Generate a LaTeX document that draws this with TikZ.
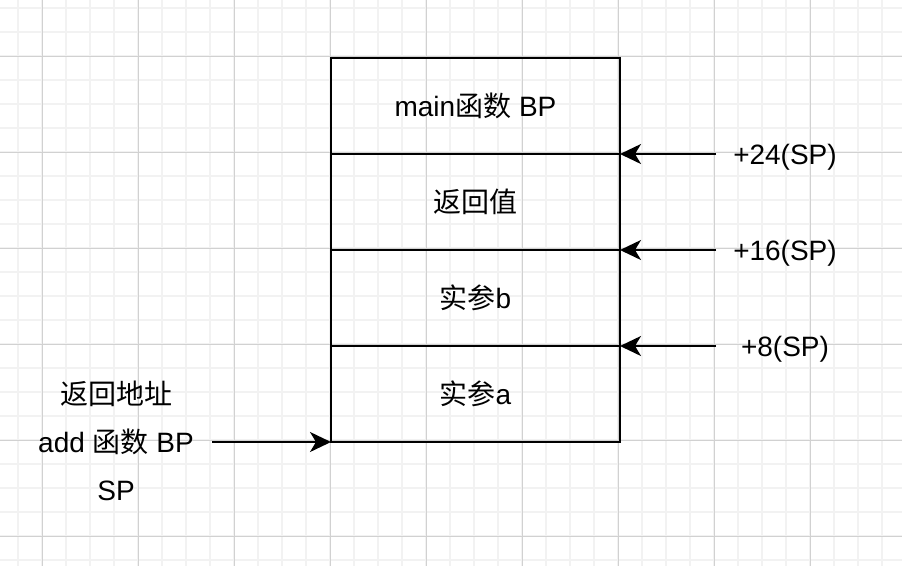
\documentclass[tikz,border=0pt]{standalone}
\usepackage{fontspec}
\setmainfont{Liberation Sans}
\newfontfamily\cjk{Noto Sans CJK SC}
\usepackage{tikz}
\usetikzlibrary{positioning,arrows.meta}

\tikzset{
  cell/.style={draw, line width=2.4pt, minimum width=289pt, minimum height=96pt, inner sep=0pt, outer sep=0pt},
  ptr/.style={line width=2pt, -{Stealth[length=21pt, width=20pt, inset=6pt]}},
  lbl/.style={font=\fontsize{28pt}{48pt}\selectfont, inner sep=0pt}
}

\begin{document}
\begin{tikzpicture}[x=1pt, y=-1pt, node distance=96pt, on grid, font=\fontsize{28pt}{34pt}\selectfont]

\useasboundingbox[fill=white] (0,0) rectangle (902,566);

% grid
\foreach \x in {18,42,...,882} \draw[line width=1.6pt, black!5] (\x,0) -- (\x,566);
\foreach \y in {8,32,...,560} \draw[line width=1.6pt, black!5] (0,\y) -- (902,\y);
\foreach \x in {42,138,...,810} \draw[line width=0.8pt, black!18] (\x,0) -- (\x,566);
\foreach \y in {56,152,...,536} \draw[line width=0.8pt, black!18] (0,\y) -- (902,\y);


\node[cell] (main) at (475.5,106) {main{\cjk 函数} BP};
\node[cell] (ret) [below=of main] {{\cjk 返回值}};
\node[cell] (argb) [below=of ret] {{\cjk 实参}b};
\node[cell] (arga) [below=of argb] {{\cjk 实参}a};


\node[lbl] (l24) at (785,157) {+24(SP)};
\node[lbl] (l16) at (785,253) {+16(SP)};
\node[lbl] (l8) at (785,349) {+8(SP)};
\coordinate (t24) at (716,154);
\coordinate (t16) at (716,250);
\coordinate (t8) at (716,346);

\draw[ptr] (t24) -- (main.south east);
\draw[ptr] (t16) -- (ret.south east);
\draw[ptr] (t8) -- (argb.south east);


\node[lbl, align=center] (sp) at (116,441) {{\cjk 返回地址}\\add {\cjk 函数} BP\\SP};
\coordinate (tsp) at (212,442);

\draw[ptr] (tsp) -- (arga.south west);

\end{tikzpicture}
\end{document}
